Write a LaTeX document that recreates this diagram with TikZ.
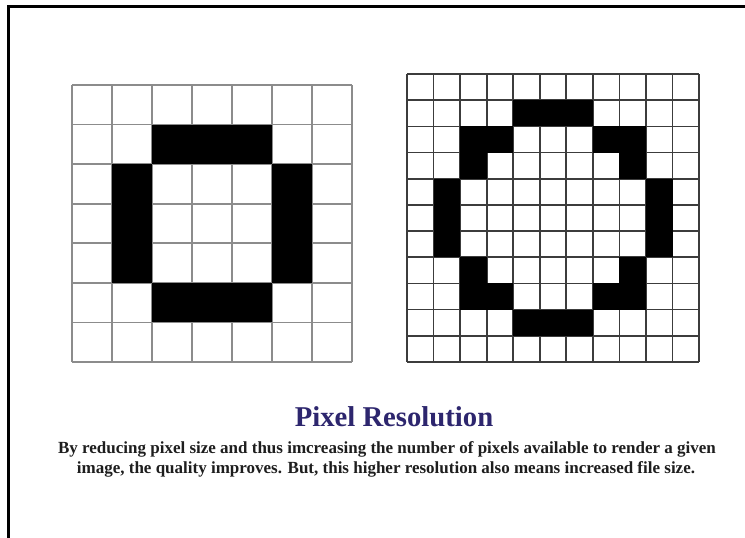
\documentclass[tikz,border=0pt]{standalone}
\usepackage{fontspec}
\setmainfont{Liberation Serif}
\definecolor{titleblue}{RGB}{45,38,110}
\definecolor{bodytext}{RGB}{30,30,30}
\definecolor{coarseline}{RGB}{140,140,140}
\definecolor{fineline}{RGB}{60,60,60}
\tikzset{
  pix/.style={fill=black},
  coarsegrid/.style={draw=coarseline, line width=1.8pt},
  finegrid/.style={draw=fineline, line width=1.7pt},
  titletext/.style={text=titleblue, font=\bfseries\fontsize{28.7}{32}\selectfont, inner sep=0pt, anchor=base},
  bodyline/.style={text=bodytext, font=\bfseries\fontsize{17}{20}\selectfont, inner sep=0pt, anchor=base}
}
\begin{document}
\begin{tikzpicture}[x=1pt,y=-1pt]
\useasboundingbox (0,0) rectangle (745,538);
\fill[white] (0,0) rectangle (745,538);
% frame (top and left only)
\draw[line width=3pt] (8,538) -- (8,6) -- (745,6);
% coarse grid 7x7
\foreach \i in {0,...,7} {
  \draw[coarsegrid] (72+\i*40,85) -- (72+\i*40,362);
  \draw[coarsegrid] (72,85+\i*39.57) -- (352,85+\i*39.57);
}
\foreach \r/\c in {1/2,1/3,1/4,2/1,3/1,4/1,2/5,3/5,4/5,5/2,5/3,5/4}
  \fill[pix] (72+\c*40, 85+\r*39.57) rectangle ++(40,39.57);
% fine grid 11x11
\foreach \i in {0,...,11} {
  \draw[finegrid] (407+\i*26.55,74) -- (407+\i*26.55,362);
  \draw[finegrid] (407,74+\i*26.18) -- (699,74+\i*26.18);
}
\foreach \r/\c in {1/4,1/5,1/6,2/2,2/3,2/7,2/8,3/2,3/8,4/1,5/1,6/1,4/9,5/9,6/9,7/2,7/8,8/2,8/3,8/7,8/8,9/4,9/5,9/6}
  \fill[pix] (407+\c*26.55, 74+\r*26.18) rectangle ++(26.55,26.18);
% texts
\node[titletext] (title) at (394,426) {Pixel Resolution};
\node[bodyline] (line1) at (387,453) {By reducing pixel size and thus imcreasing the number of pixels available to render a given};
\node[bodyline] (line2) at (386,473) {image, the quality improves. But, this higher resolution also means increased file size.};
\end{tikzpicture}
\end{document}
